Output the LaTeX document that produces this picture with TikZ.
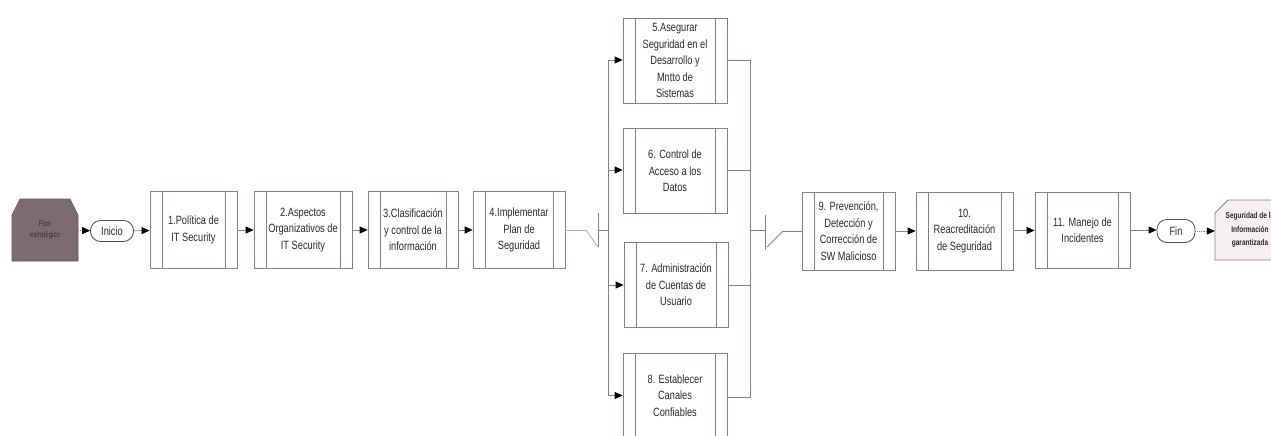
\documentclass[tikz,border=0pt]{standalone}
\usepackage{fontspec}
\setmainfont{Liberation Sans}[FakeStretch=0.77]
\usetikzlibrary{arrows.meta}
\definecolor{ln}{HTML}{8C7C86}
\definecolor{lnfaint}{HTML}{B8AEB4}
\definecolor{planfill}{HTML}{7E6A72}
\definecolor{endfill}{HTML}{F4F0F2}
\definecolor{tx}{HTML}{2A2A2A}
\begin{document}
\begin{tikzpicture}[x=1pt,y=-1pt,
  subproc/.style={draw=ln, line width=0.8pt, inner sep=0pt, align=center,
    font=\fontsize{12}{16.5}\selectfont, text=tx,
    path picture={
      \draw[ln,line width=0.8pt] ([xshift=12pt]path picture bounding box.north west) -- ([xshift=12pt]path picture bounding box.south west);
      \draw[ln,line width=0.8pt] ([xshift=-12pt]path picture bounding box.north east) -- ([xshift=-12pt]path picture bounding box.south east);}},
  mainbox/.style={subproc, minimum height=77pt},
  parbox/.style={subproc, minimum width=104pt, minimum height=85pt},
  event/.style={draw=black!70, line width=0.8pt, rounded corners=10pt, inner sep=0pt,
    font=\fontsize{12}{14}\selectfont, text=tx},
  flow/.style={draw=ln, line width=0.8pt, -{Triangle[length=8pt,width=7pt,color=black]}},
  dflow/.style={flow, densely dotted},
  wire/.style={draw=ln, line width=0.8pt},
]
\useasboundingbox (0,0) rectangle (1271,436);
\fill[white] (0,0) rectangle (1271,436);

% start artefact
\filldraw[fill=planfill, draw=planfill!80!black, line width=0.6pt]
  (12,215) -- (20,199) -- (70,199) -- (78,215) -- (78,261) -- (12,261) -- cycle;
\node[minimum width=66pt, minimum height=62pt, inner sep=0pt, align=center,
  font=\fontsize{8}{11}\selectfont, text=black!80] (plan) at (45,230) {Plan\\estratégico};

\node[event, minimum width=43pt, minimum height=21pt] (inicio) at (112,231) {Inicio};

\node[mainbox, minimum width=87pt] (b1) at (193.5,230) {1.Política de\\IT Security};
\node[mainbox, minimum width=98pt] (b2) at (303,230) {2.Aspectos\\Organizativos de\\IT Security};
\node[mainbox, minimum width=90pt] (b3) at (413,230) {3.Clasificación\\y control de la\\información};
\node[mainbox, minimum width=92pt] (b4) at (519,230) {4.Implementar\\Plan de\\Seguridad};

\node[parbox] (b5) at (675,60.5) {5.Asegurar\\Seguridad en el\\Desarrollo y\\Mntto de\\Sistemas};
\node[parbox] (b6) at (675,171) {6. Control de\\Acceso a los\\Datos};
\node[parbox] (b7) at (676,285) {7. Administración\\de Cuentas de\\Usuario};
\node[parbox] (b8) at (675,395.5) {8. Establecer\\Canales\\Confiables};

\node[mainbox, minimum width=93pt, minimum height=78pt] (b9) at (848.5,231) {9. Prevención,\\Detección y\\Corrección de\\SW Malicioso};
\node[mainbox, minimum width=97pt, minimum height=78pt] (b10) at (964.5,231) {10.\\Reacreditación\\de Seguridad};
\node[mainbox, minimum width=95pt, minimum height=76pt] (b11) at (1082.5,230) {11. Manejo de\\Incidentes};

\node[event, minimum width=38pt, minimum height=23pt] (fin) at (1176,231) {Fin};

% end artefact
\filldraw[fill=endfill, draw=ln, line width=0.8pt]
  (1215,213) -- (1228,200) -- (1290,200) -- (1290,260) -- (1215,260) -- cycle;
\node[minimum width=70pt, minimum height=60pt, inner sep=0pt, align=center,
  font=\bfseries\fontsize{8.5}{13.5}\selectfont, text=tx] (res) at (1250,230)
  {Seguridad de la\\Información\\garantizada};

% main flow
\draw[dflow] (plan) -- (inicio);
\draw[flow] (inicio) -- (b1);
\draw[flow] (b1) -- (b2);
\draw[flow] (b2) -- (b3);
\draw[flow] (b3) -- (b4);

% parallel split gateway
\coordinate (gA) at (586,230);
\coordinate (gTop) at (598,213);
\coordinate (gBot) at (598,247);
\coordinate (gM) at (598,230);
\coordinate (sL) at (608,230);
\draw[wire, draw=lnfaint] (b4.east) -- (gA);
\draw[wire, draw=lnfaint] (gA) -- (gBot);
\draw[wire] (gTop) -- (gBot);
\draw[wire] (gM) -- (sL);
\draw[flow] (sL) |- ([yshift=0.5pt]b5.west);
\draw[flow] (sL) |- ([yshift=1pt]b6.west);
\draw[flow] (sL) |- (b7.west);
\draw[flow] (sL) |- (b8.west);

% parallel join gateway
\coordinate (sR) at (750,230);
\coordinate (hTop) at (765,215);
\coordinate (hBot) at (765,250);
\coordinate (hD1) at (767,247);
\coordinate (hD2) at (783,231);
\draw[wire] (b5.east) -| (sR);
\draw[wire] ([yshift=1pt]b6.east) -| (sR);
\draw[wire] (b7.east) -| (sR);
\draw[wire] ([yshift=-2pt]b8.east) -| (sR);
\draw[wire] (sR) -- (sR -| hTop);
\draw[wire] (hTop) -- (hBot);
\draw[wire] (hD1) -- (hD2);
\draw[wire] (hD2) -- (b9.west);

\draw[flow] (b9) -- (b10);
\draw[flow] (b10) -- (b11);
\draw[flow] (b11.east) -- (fin.west |- b11.east);
\draw[dflow] (fin) -- (fin -| res.west);
\end{tikzpicture}
\end{document}
